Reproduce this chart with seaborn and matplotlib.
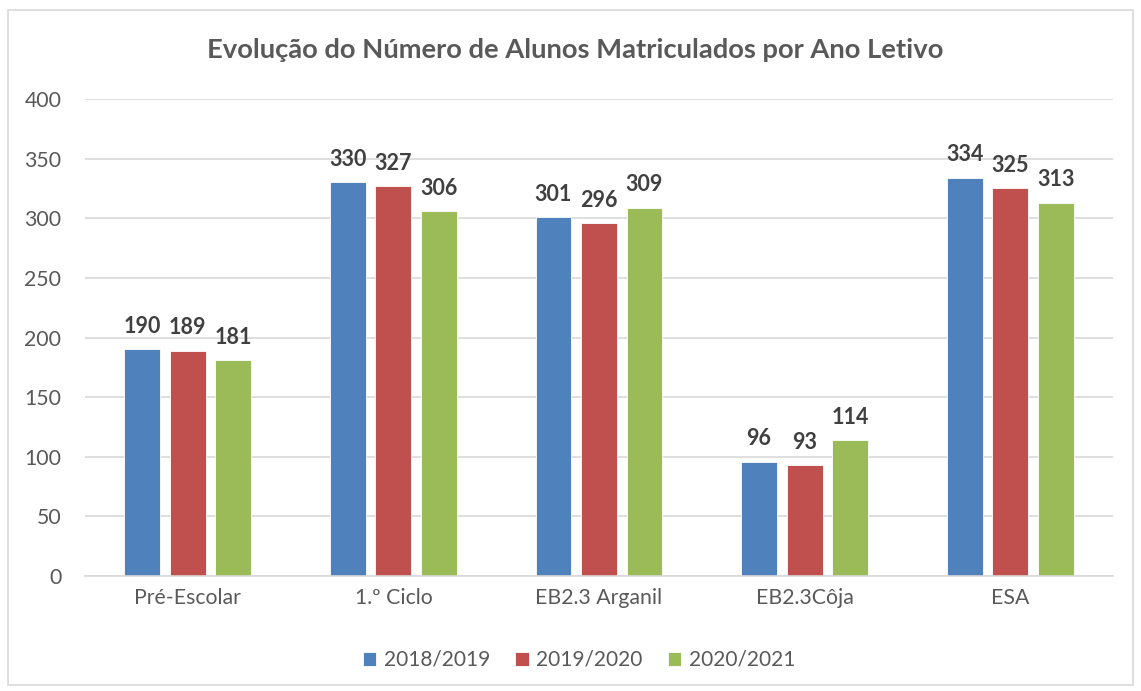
import matplotlib
matplotlib.use("Agg")
import matplotlib.pyplot as plt
import seaborn as sns
import pandas as pd
from matplotlib.patches import Rectangle

categories = ["Pré-Escolar", "1.º Ciclo", "EB2.3 Arganil", "EB2.3Côja", "ESA"]
series = ["2018/2019", "2019/2020", "2020/2021"]
v2018 = [190, 330, 301, 96, 334]
v2019 = [189, 327, 296, 93, 325]
v2020 = [181, 306, 309, 114, 313]
colors = ["#4F81BD", "#C0504D", "#9BBB59"]
title = "Evolução do Número de Alunos Matriculados por Ano Letivo"

rows = []
for s, vals in zip(series, [v2018, v2019, v2020]):
    for c, v in zip(categories, vals):
        rows.append({"cat": c, "serie": s, "val": v})
df = pd.DataFrame(rows)

sns.set_theme(style="white")
plt.rcParams["font.family"] = ["Lato", "DejaVu Sans"]

fig = plt.figure(figsize=(11.41, 6.91), dpi=100)
ax = fig.add_axes([85/1141, 1-576/691, (1113-85)/1141, (576-99)/691])

sns.barplot(data=df, x="cat", y="val", hue="serie", order=categories,
            hue_order=series, palette=colors, width=0.664, gap=0.21,
            ax=ax, edgecolor="white", linewidth=0.6, saturation=1)

ax.set_ylim(0, 400)
ax.set_xlim(-0.5, 4.5)
ax.set_yticks(range(0, 401, 50))
ax.yaxis.grid(True, color="#D9D9D9", linewidth=1.2)
ax.set_axisbelow(True)
for s in ["left", "right", "top"]:
    ax.spines[s].set_visible(False)
ax.spines["bottom"].set_color("#D9D9D9")
ax.spines["bottom"].set_linewidth(1.2)
ax.tick_params(axis="both", length=0, labelsize=15.3, colors="#595959")
ax.tick_params(axis="y", pad=17)
ax.tick_params(axis="x", pad=9)
ax.set_xlabel("")
ax.set_ylabel("")

for cont in ax.containers:
    ax.bar_label(cont, fmt="%d", padding=9, fontsize=15.5, fontweight="bold",
                 color="#404040")

leg = ax.legend(loc="center",
                bbox_to_anchor=(0.5 - 20/1028, (691-660-(691-576))/(576-99)),
                ncol=3, frameon=False, fontsize=15, handlelength=0.65,
                handleheight=0.65, columnspacing=1.22, handletextpad=0.35)
for t in leg.get_texts():
    t.set_color("#595959")

fig.text(575/1141, 1-50/691, title, ha="center", va="center", fontsize=19.7,
         fontweight="bold", color="#595959")

fig.patches.append(Rectangle((8/1141, 6/691), (1133-8)/1141, (681-6)/691,
                             transform=fig.transFigure, fill=False,
                             edgecolor="#D9D9D9", linewidth=1.2))

fig.savefig("out.png", dpi=100)
